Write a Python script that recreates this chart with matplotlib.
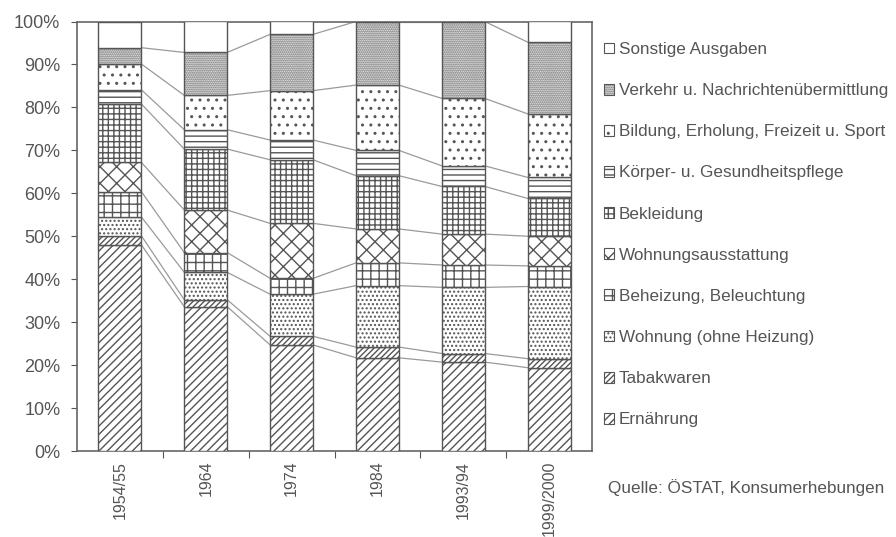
import matplotlib
matplotlib.use("Agg")
import matplotlib.pyplot as plt
from matplotlib.patches import Patch
import numpy as np

plt.rcParams['font.family'] = ['Liberation Sans', 'DejaVu Sans']
plt.rcParams['hatch.linewidth'] = 1.0

years = ["1954/55", "1964", "1974", "1984", "1993/94", "1999/2000"]

categories = [
    "Ernährung",
    "Tabakwaren",
    "Wohnung (ohne Heizung)",
    "Beheizung, Beleuchtung",
    "Wohnungsausstattung",
    "Bekleidung",
    "Körper- u. Gesundheitspflege",
    "Bildung, Erholung, Freizeit u. Sport",
    "Verkehr u. Nachrichtenübermittlung",
    "Sonstige Ausgaben",
]

# Shares of consumer spending in percent, per survey year
ernaehrung     = [48.0, 33.6, 24.7, 21.7, 20.7, 19.4]
tabakwaren     = [2.1, 1.6, 2.0, 2.5, 2.0, 2.1]
wohnung        = [4.4, 6.4, 9.8, 14.3, 15.4, 16.8]
beheizung      = [5.9, 4.6, 3.7, 5.3, 5.2, 4.8]
ausstattung    = [6.8, 9.9, 12.8, 7.9, 7.2, 6.9]
bekleidung     = [13.6, 14.2, 14.8, 12.4, 11.1, 8.8]
koerperpflege  = [3.3, 4.5, 4.6, 5.9, 4.8, 4.9]
bildung        = [6.0, 8.0, 11.5, 15.2, 15.7, 14.8]
verkehr        = [3.8, 10.0, 13.1, 14.8, 17.9, 16.7]
sonstige       = [6.1, 7.2, 3.0, 0.0, 0.0, 4.8]

series = [ernaehrung, tabakwaren, wohnung, beheizung, ausstattung,
          bekleidung, koerperpflege, bildung, verkehr, sonstige]

hatches = ['////', '//////', '....', '++', 'xx', '+++', '---', '..', '........', '']

edge = '#555555'
text_col = '#555555'

fig = plt.figure(figsize=(8.96, 5.37), dpi=100)
ax = fig.add_axes([77 / 896, 1 - 451 / 537, (592 - 77) / 896, (451 - 21.5) / 537])

x = np.arange(len(years))
width = 0.5
bottom = np.zeros(len(years))
tops = []
for vals, h, lab in zip(series, hatches, categories):
    vals = np.array(vals)
    ax.bar(x, vals, width, bottom=bottom, color='white', edgecolor=edge,
           hatch=h, linewidth=1.0, label=lab, zorder=3)
    bottom = bottom + vals
    tops.append(bottom.copy())

# Connector lines between matching segment boundaries of neighbouring bars
for cum in tops[:-1]:
    for i in range(len(years) - 1):
        ax.plot([x[i] + width / 2, x[i + 1] - width / 2], [cum[i], cum[i + 1]],
                color='#9a9a9a', linewidth=0.9, zorder=2)

ax.set_xlim(-0.5, len(years) - 0.5)
ax.set_ylim(0, 100)
ax.set_yticks(np.arange(0, 101, 10))
ax.set_yticklabels([f"{v}%" for v in range(0, 101, 10)], fontsize=13, color=text_col)
ax.tick_params(axis='y', direction='out', length=4, width=0.8, color=edge, pad=8)

ax.set_xticks(x)
ax.set_xticklabels(years, rotation=90, fontsize=11.5, color=text_col)
ax.tick_params(axis='x', which='major', length=0, pad=7)
ax.set_xticks(np.arange(0.5, len(years) - 0.5, 1), minor=True)
ax.tick_params(axis='x', which='minor', direction='out', length=5, width=0.8, color=edge)

for s in ax.spines.values():
    s.set_color('#666666')
    s.set_linewidth(1.2)

handles = [Patch(facecolor='white', edgecolor=edge, hatch=h, linewidth=0.8)
           for h in hatches]
leg = ax.legend(handles[::-1], categories[::-1], loc='upper left',
                bbox_to_anchor=(604 / 896, 1 - 42 / 537), bbox_transform=fig.transFigure,
                frameon=False, fontsize=12.3, handlelength=0.6, handleheight=0.6,
                handletextpad=0.25, labelspacing=1.53, borderaxespad=0, borderpad=0)
for t in leg.get_texts():
    t.set_color(text_col)

fig.text(608 / 896, 1 - 488 / 537, "Quelle: ÖSTAT, Konsumerhebungen",
         fontsize=12.3, color=text_col, va='center', ha='left')

fig.savefig("out.png", dpi=100)
